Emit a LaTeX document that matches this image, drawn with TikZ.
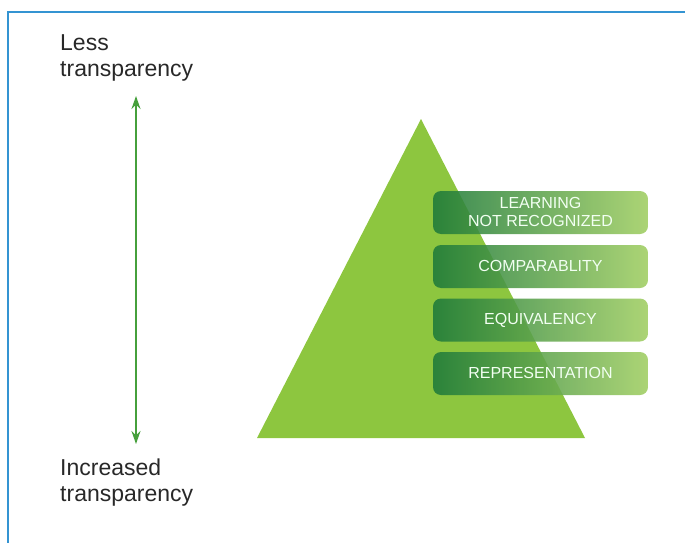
\documentclass[tikz,border=0pt]{standalone}
\usepackage{fontspec}
\setmainfont{Liberation Sans}
\usetikzlibrary{arrows.meta}

\definecolor{frameblue}{RGB}{52,148,210}
\definecolor{leafgreen}{RGB}{141,198,63}
\definecolor{darkleaf}{RGB}{30,122,58}
\definecolor{lightleaf}{RGB}{160,206,98}
\definecolor{arrowgreen}{RGB}{70,160,60}
\definecolor{labelgray}{RGB}{40,40,40}

\tikzset{
	levelbox/.style={minimum width=215pt, minimum height=43pt, inner sep=0pt,
		rounded corners=8pt, left color=darkleaf, right color=lightleaf,
		fill opacity=0.88, text opacity=1, text=white!95!green, align=center,
		text depth=1.5pt, font=\fontsize{16}{18.5}\selectfont},
	sidelabel/.style={anchor=north west, inner sep=0pt, align=left, text=labelgray,
		font=\fontsize{23}{26}\selectfont}
}

\begin{document}
\begin{tikzpicture}[x=1pt,y=-1pt]
\useasboundingbox (0,0) rectangle (685,543);
\begin{scope}
	\draw[frameblue, line width=1.2pt] (8,543) -- (8,12) -- (685,12);
	\fill[leafgreen] (421,119) -- (585,438) -- (257,438) -- cycle;
	\node[levelbox] (learning) at (540.5,212.5) {LEARNING\\NOT RECOGNIZED};
	\node[levelbox] (compare) at (540.5,266.5) {COMPARABLITY};
	\node[levelbox] (equiv) at (540.5,320) {EQUIVALENCY};
	\node[levelbox] (represent) at (540.5,373.5) {REPRESENTATION};
	\node[sidelabel] (less) at (60,34) {Less\\transparency};
	\node[sidelabel] (more) at (60,459) {Increased\\transparency};
	\coordinate (high) at (136,96);
	\coordinate (low) at (136,444);
	\draw[arrowgreen, line width=2pt, {Stealth[length=13pt,width=9pt]}-{Stealth[length=13pt,width=9pt]}] (high) -- (low);
\end{scope}
\end{tikzpicture}
\end{document}
